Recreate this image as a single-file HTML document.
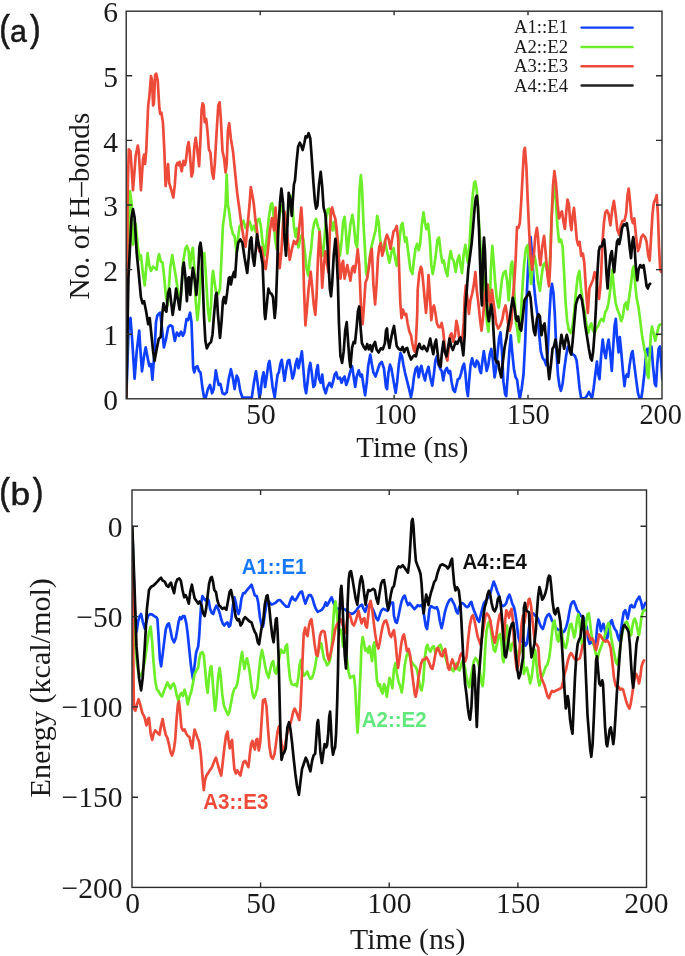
<!DOCTYPE html>
<html><head><meta charset="utf-8">
<style>
html,body{margin:0;padding:0;background:#fff;}
body{width:685px;height:956px;overflow:hidden;position:relative;font-family:"Liberation Serif",serif;}
svg{position:absolute;left:0;top:0;filter:blur(0.55px);}
text{font-family:"Liberation Serif",serif;fill:#1a1a1a;}
.s{font-family:"Liberation Sans",sans-serif;}
.b{font-family:"Liberation Sans",sans-serif;font-weight:bold;font-size:21.5px;}
</style></head><body>
<svg width="685" height="956" viewBox="0 0 685 956">
<defs>
<clipPath id="cp1"><rect x="126" y="11" width="536" height="388"/></clipPath>
<clipPath id="cp2"><rect x="132" y="490" width="514.5" height="397.5"/></clipPath>
</defs>
<rect width="685" height="956" fill="#fff"/>
<!-- chart 1 -->
<g>
<path d="M126.3,397.5 L128.8,322.2 L130.5,318.0 L132.1,338.9 L134.6,378.6 L136.7,351.4 L139.2,330.5 L140.5,351.4 L142.0,371.3 L144.1,355.6 L145.7,347.3 L147.2,355.6 L149.3,366.1 L151.0,364.0 L152.4,379.7 L154.5,351.4 L156.0,322.2 L157.2,315.9 L158.7,313.8 L160.2,312.7 L161.8,326.3 L163.9,347.3 L166.0,338.9 L168.1,327.4 L170.2,325.3 L172.3,326.3 L174.8,341.0 L176.9,332.6 L179.0,335.8 L181.1,331.6 L182.8,335.8 L184.4,332.6 L186.5,319.0 L188.0,320.1 L190.1,312.7 L191.5,322.2 L193.2,368.2 L194.3,372.4 L195.7,367.1 L197.4,366.1 L199.1,371.3 L200.5,372.4 L202.6,389.1 L204.1,397.5 L205.8,397.5 L207.9,389.1 L210.0,384.9 L212.1,393.3 L213.7,389.1 L215.8,370.3 L217.3,378.6 L218.7,384.9 L220.4,383.9 L222.5,393.3 L224.6,394.3 L226.7,392.2 L228.8,378.6 L230.9,369.2 L233.0,378.6 L234.6,389.1 L236.7,375.5 L238.2,378.6 L240.3,391.2 L242.4,397.5 L251.8,397.5 L253.9,382.8 L256.0,371.3 L257.9,384.9 L259.4,397.5 L260.5,393.3 L262.1,378.6 L263.6,372.4 L265.1,387.0 L266.7,376.5 L268.4,364.0 L269.5,360.9 L270.9,372.4 L272.6,387.0 L274.7,397.5 L276.2,384.9 L277.6,374.5 L278.9,372.4 L280.3,364.0 L281.8,359.8 L283.1,370.3 L284.5,380.7 L286.0,370.3 L287.7,360.9 L289.3,359.8 L290.8,368.2 L292.5,378.6 L293.9,374.5 L295.6,364.0 L297.1,358.8 L298.5,368.2 L300.2,359.8 L301.9,351.4 L303.3,368.2 L304.8,387.0 L306.1,393.3 L307.5,382.8 L309.0,368.2 L310.3,362.9 L311.7,372.4 L313.4,387.0 L314.9,384.9 L316.5,370.3 L317.8,365.0 L319.0,378.6 L320.7,382.8 L322.2,374.5 L323.6,387.0 L325.7,393.3 L327.4,387.0 L329.5,382.8 L331.6,387.0 L333.3,380.7 L334.7,374.5 L336.2,372.4 L337.9,378.6 L340.0,377.6 L341.6,382.8 L343.1,378.6 L344.6,376.5 L346.2,384.9 L347.9,380.7 L350.0,372.4 L352.1,366.1 L353.6,376.5 L355.2,387.0 L356.7,376.5 L358.8,370.3 L360.5,376.5 L361.9,374.5 L363.4,384.9 L365.1,395.4 L366.7,382.8 L368.2,366.1 L370.3,354.6 L371.8,364.0 L373.4,372.4 L375.5,376.5 L377.6,370.3 L379.7,364.0 L381.8,361.9 L383.9,368.2 L386.0,387.0 L387.0,389.1 L388.4,373.1 L390.0,364.7 L391.5,368.9 L393.6,381.4 L395.7,392.9 L397.2,381.4 L398.8,364.7 L400.5,353.2 L402.0,356.3 L403.4,364.7 L405.1,373.1 L407.2,381.4 L409.3,389.8 L411.0,397.1 L412.4,389.8 L413.9,377.3 L415.6,368.9 L417.2,366.8 L418.7,377.3 L420.2,368.9 L421.4,365.8 L422.9,373.1 L425.0,380.4 L426.4,373.1 L428.5,366.8 L430.2,377.3 L432.3,385.6 L434.0,373.1 L435.4,360.5 L436.9,356.3 L438.6,364.7 L440.3,368.9 L441.7,371.0 L443.2,380.4 L444.9,371.0 L446.9,367.8 L448.6,373.1 L450.1,371.0 L451.5,381.4 L453.2,389.8 L454.9,391.9 L456.4,385.6 L457.8,379.4 L459.5,378.3 L461.2,373.1 L462.6,366.8 L464.1,363.7 L465.4,373.1 L466.8,389.8 L467.9,396.1 L469.1,381.4 L470.6,364.7 L472.1,358.4 L473.7,364.7 L475.2,366.8 L476.7,360.5 L478.3,362.6 L480.0,371.0 L481.0,373.1 L482.5,360.5 L483.8,351.1 L485.2,360.5 L486.7,371.0 L488.4,364.7 L489.8,354.2 L491.3,349.0 L493.0,360.5 L494.6,377.3 L496.1,368.9 L497.6,352.2 L499.2,337.5 L500.5,332.3 L502.0,352.2 L503.4,381.4 L505.1,394.0 L506.2,396.1 L507.6,377.3 L509.3,352.2 L510.8,335.4 L512.2,352.2 L513.9,368.9 L515.6,377.3 L517.0,379.4 L518.2,388.5 L519.8,399.0 L521.7,388.5 L523.5,374.5 L525.2,341.8 L526.8,295.1 L528.7,253.0 L530.6,237.1 L532.2,255.4 L533.8,283.4 L535.7,302.1 L537.6,316.1 L539.2,334.8 L540.8,351.1 L542.7,358.1 L544.6,360.5 L546.2,365.1 L547.8,351.1 L549.2,318.4 L550.9,290.4 L552.0,283.9 L553.4,292.7 L554.8,313.8 L556.2,346.5 L557.9,374.5 L559.5,386.2 L560.9,390.8 L562.6,383.8 L564.2,369.8 L566.1,355.8 L567.9,346.5 L569.6,348.8 L571.2,352.3 L573.1,354.6 L574.9,355.8 L576.6,360.5 L578.2,374.5 L579.6,388.5 L581.2,398.3 L585.2,398.3 L587.1,395.5 L588.9,392.0 L590.6,395.5 L592.0,398.3 L593.6,388.5 L595.3,374.5 L596.9,361.6 L598.3,374.5 L599.5,379.2 L601.1,355.8 L602.7,339.5 L604.1,351.1 L605.8,358.1 L607.2,346.5 L608.6,339.5 L610.0,351.1 L611.8,371.0 L613.2,346.5 L614.6,325.4 L615.8,318.9 L617.0,337.1 L618.6,352.3 L619.8,337.1 L621.2,351.1 L622.8,369.8 L624.5,386.2 L625.6,376.8 L626.8,374.5 L628.2,376.8 L629.6,365.1 L631.5,353.5 L632.6,351.1 L634.3,365.1 L636.1,379.2 L638.0,393.2 L639.6,398.3 L641.3,398.3 L642.7,388.5 L644.3,374.5 L645.9,355.8 L647.3,348.8 L648.7,355.8 L650.1,346.5 L651.5,346.5 L652.9,365.1 L654.8,383.8 L656.0,386.2 L657.2,365.1 L658.6,348.8 L660.0,346.5 L661.4,365.1 L662.3,379.2" fill="none" stroke="#1040ff" stroke-width="2.7" stroke-linejoin="round" stroke-linecap="round" clip-path="url(#cp1)"/>
<path d="M126.3,397.5 L127.9,267.8 L129.2,205.0 L130.0,191.2 L131.7,205.0 L133.0,244.7 L135.7,223.8 L137.8,246.8 L139.9,259.4 L140.9,255.2 L143.0,274.0 L144.7,285.5 L146.2,267.8 L147.6,253.1 L149.3,265.7 L151.0,270.9 L153.1,266.7 L154.5,267.8 L156.6,269.9 L158.1,257.3 L159.1,254.2 L160.8,261.5 L162.5,262.5 L163.9,274.0 L166.0,297.1 L167.7,305.4 L170.2,267.8 L172.3,255.2 L174.0,265.7 L176.1,278.2 L178.2,292.9 L180.3,301.2 L181.7,284.5 L183.2,261.5 L185.3,248.9 L186.9,245.8 L188.6,251.0 L190.1,267.8 L191.1,255.2 L192.8,247.9 L194.3,267.8 L195.7,301.2 L197.4,320.1 L199.1,303.3 L200.5,278.2 L202.6,257.3 L204.3,253.1 L205.8,274.0 L207.9,309.6 L209.5,321.1 L211.0,305.4 L212.1,278.2 L213.1,270.9 L214.6,282.4 L216.2,292.9 L218.3,293.9 L220.0,288.7 L221.5,257.3 L222.9,225.9 L224.6,213.4 L225.6,205.0 L226.7,174.5 L227.9,205.0 L228.8,209.2 L230.9,225.9 L233.0,234.3 L234.6,236.4 L236.7,253.1 L238.2,236.4 L239.7,225.9 L241.3,224.9 L243.4,220.7 L245.5,228.0 L247.6,223.8 L249.7,221.7 L251.8,230.1 L253.9,225.9 L256.0,232.2 L257.3,220.1 L259.4,219.0 L260.9,226.3 L262.6,243.1 L264.6,255.6 L266.7,238.9 L268.8,218.0 L270.9,204.4 L272.2,203.3 L273.4,213.8 L275.1,238.9 L276.8,249.4 L278.2,230.5 L279.7,213.8 L281.4,205.4 L283.5,213.8 L285.6,230.5 L287.2,222.2 L288.7,205.4 L290.8,196.0 L292.3,203.3 L293.9,226.3 L295.6,236.8 L297.1,228.4 L298.5,247.3 L300.2,238.9 L301.9,234.7 L303.3,238.9 L304.8,251.4 L306.5,268.2 L308.2,275.5 L309.6,259.8 L311.1,249.4 L312.8,230.5 L314.4,222.2 L316.1,219.0 L317.8,226.3 L319.5,230.5 L321.1,247.3 L322.8,255.6 L324.3,241.0 L325.7,222.2 L327.4,209.6 L329.1,208.6 L330.5,218.0 L332.6,230.5 L334.1,222.2 L335.8,230.5 L337.9,241.0 L340.0,255.6 L341.6,241.0 L343.1,222.2 L344.6,216.9 L345.8,230.5 L347.3,253.5 L348.7,241.0 L350.4,224.2 L352.5,214.8 L354.0,226.3 L355.6,243.1 L357.1,247.3 L358.4,222.2 L359.6,188.7 L360.9,175.1 L362.1,188.7 L363.4,222.2 L365.1,251.4 L366.1,272.4 L367.2,276.5 L369.2,261.9 L371.3,247.3 L373.4,238.9 L375.5,230.5 L377.2,215.9 L378.7,222.2 L380.1,238.9 L381.8,251.4 L383.5,247.3 L384.9,241.0 L387.0,251.4 L389.4,262.6 L391.5,252.2 L393.6,248.0 L395.1,258.4 L396.7,265.8 L398.4,252.2 L399.9,235.4 L401.3,225.0 L402.6,222.9 L404.1,235.4 L405.1,241.7 L406.4,237.5 L408.2,252.2 L410.3,268.9 L412.4,274.1 L413.9,260.5 L415.6,248.0 L417.2,243.8 L418.7,250.1 L420.2,243.8 L421.8,225.0 L423.5,212.4 L425.0,222.9 L426.4,229.1 L428.1,223.9 L429.8,239.6 L431.3,264.7 L432.7,274.1 L434.4,264.7 L436.1,252.2 L437.5,239.6 L439.0,237.5 L440.7,252.2 L442.3,262.6 L443.8,260.5 L445.3,268.9 L447.4,276.2 L449.0,260.5 L450.7,251.1 L452.2,258.4 L453.6,260.5 L455.7,272.0 L457.4,260.5 L459.1,255.3 L460.5,264.7 L462.0,273.1 L463.7,254.2 L465.4,244.8 L466.8,256.3 L467.9,262.6 L469.5,243.8 L471.0,218.7 L472.5,197.8 L474.1,183.1 L475.2,181.4 L476.7,189.4 L477.9,206.1 L479.4,229.1 L480.8,252.2 L482.5,268.9 L484.0,281.4 L485.6,306.5 L487.1,323.3 L488.4,331.7 L489.6,312.8 L490.9,268.9 L492.3,245.9 L493.6,260.5 L495.1,281.4 L496.7,298.2 L498.8,307.6 L500.3,294.0 L502.0,279.4 L503.4,273.1 L505.5,271.0 L507.2,281.4 L508.7,300.3 L509.7,285.6 L511.0,264.7 L512.2,261.6 L513.5,277.3 L514.9,302.4 L516.0,323.3 L517.0,327.5 L518.9,342.2 L520.5,323.5 L522.1,293.2 L524.0,265.1 L525.9,248.8 L527.5,245.3 L529.2,260.5 L531.0,283.8 L532.9,265.1 L534.5,255.8 L536.2,265.1 L538.0,281.5 L539.9,290.8 L541.5,276.8 L543.2,265.1 L545.0,262.8 L546.9,269.8 L548.5,279.2 L550.2,255.8 L551.6,218.4 L553.2,192.7 L554.4,184.6 L555.8,199.7 L557.4,225.4 L559.1,241.8 L560.9,239.5 L562.6,246.5 L564.2,274.5 L565.6,302.5 L567.2,321.2 L568.9,330.5 L570.7,332.9 L572.6,325.9 L574.2,311.9 L575.9,293.2 L577.7,276.8 L579.4,271.0 L581.0,288.5 L582.9,302.5 L584.7,311.9 L586.6,325.9 L588.2,332.9 L589.9,325.9 L591.3,323.5 L592.9,330.5 L594.6,332.9 L596.4,328.2 L598.3,325.9 L599.9,321.2 L601.6,318.9 L603.4,321.2 L605.3,311.9 L606.9,309.5 L608.6,302.5 L610.4,288.5 L612.3,269.8 L613.9,288.5 L615.6,302.5 L617.4,309.5 L619.3,314.2 L621.2,321.2 L622.8,316.5 L624.5,304.9 L626.1,302.5 L627.5,309.5 L629.1,297.8 L631.0,283.8 L632.6,269.8 L633.8,266.3 L635.2,283.8 L636.6,297.8 L638.5,307.2 L640.3,321.2 L642.0,335.2 L643.6,344.6 L644.3,348.8 L645.9,355.8 L647.3,374.5 L648.5,378.0 L649.7,355.8 L650.8,334.8 L652.0,326.6 L653.4,332.4 L655.3,340.6 L657.2,332.4 L659.0,325.4 L660.7,324.3" fill="none" stroke="#6cee28" stroke-width="2.7" stroke-linejoin="round" stroke-linecap="round" clip-path="url(#cp1)"/>
<path d="M126.3,397.5 L127.3,267.8 L127.5,205.0 L127.9,182.8 L128.8,149.4 L130.5,151.4 L133.0,190.1 L135.7,155.6 L137.8,145.6 L138.8,151.4 L140.9,190.1 L143.0,159.8 L144.1,154.6 L145.1,164.0 L146.2,151.4 L148.2,105.4 L149.3,97.1 L151.0,76.1 L152.0,80.3 L153.1,105.4 L153.9,103.3 L155.1,75.1 L156.2,73.6 L157.7,80.3 L159.3,107.5 L160.2,113.8 L161.4,112.7 L162.9,122.2 L164.4,151.4 L165.6,186.0 L167.1,172.4 L168.1,164.0 L169.2,182.8 L171.3,190.1 L173.3,197.5 L174.8,184.9 L176.1,166.1 L177.5,162.9 L178.6,165.0 L179.6,161.9 L181.7,171.3 L183.4,160.9 L184.9,165.0 L185.9,160.9 L187.4,147.3 L188.6,142.0 L189.7,151.4 L191.5,176.5 L192.8,172.4 L194.3,147.3 L195.7,137.8 L197.0,147.3 L199.1,166.1 L200.5,138.9 L201.6,109.6 L202.6,103.3 L203.7,105.4 L204.7,122.2 L206.2,119.0 L207.4,130.5 L208.9,149.4 L210.4,152.5 L212.1,172.4 L213.5,178.6 L214.8,164.0 L216.7,130.5 L218.3,105.4 L219.6,102.3 L220.8,118.0 L222.5,151.4 L224.0,157.7 L225.6,172.4 L226.7,164.0 L227.9,130.5 L229.2,123.2 L230.9,138.9 L233.0,151.4 L235.1,172.4 L237.2,193.3 L238.8,204.8 L239.7,211.3 L241.3,223.8 L243.4,236.4 L245.5,246.8 L247.2,230.1 L248.7,213.4 L249.5,205.0 L250.8,187.0 L252.8,197.5 L253.9,204.8 L255.6,221.7 L257.0,230.1 L258.4,247.3 L259.4,251.4 L261.5,247.3 L263.6,259.8 L265.7,269.2 L267.8,251.4 L269.9,230.5 L272.0,218.0 L274.1,230.5 L275.5,207.5 L276.8,226.3 L278.2,251.4 L279.7,268.2 L281.4,251.4 L283.1,222.2 L284.5,211.7 L286.0,222.2 L287.7,238.9 L289.7,259.8 L291.8,249.4 L293.9,241.0 L296.0,244.1 L298.1,238.9 L299.8,222.2 L301.3,207.5 L302.3,222.2 L304.0,288.7 L305.4,325.3 L306.9,309.6 L308.6,288.7 L310.7,271.9 L312.3,288.7 L313.8,305.4 L315.3,314.8 L316.5,297.1 L318.0,257.3 L319.5,232.2 L320.7,251.0 L322.2,287.6 L323.6,267.8 L325.3,251.4 L327.0,264.0 L328.5,272.4 L329.9,230.5 L331.2,209.6 L332.2,207.5 L333.7,213.8 L335.4,219.0 L336.8,230.5 L338.3,251.4 L340.4,278.6 L342.1,264.0 L343.1,260.9 L344.6,278.6 L346.2,270.3 L347.3,265.0 L348.7,272.4 L350.4,280.7 L352.1,268.2 L353.6,266.1 L354.6,272.4 L356.3,261.9 L357.7,249.4 L359.2,264.0 L360.9,305.4 L362.6,324.2 L364.0,305.4 L365.5,282.4 L367.2,278.2 L368.8,267.8 L370.3,255.2 L371.8,248.9 L373.4,284.5 L375.1,304.4 L376.6,284.5 L378.0,257.3 L379.3,246.8 L380.8,243.1 L382.2,255.6 L383.9,249.4 L385.6,238.9 L387.0,234.7 L388.8,239.6 L390.5,249.0 L392.1,239.6 L393.6,231.2 L395.1,230.2 L396.7,226.0 L398.2,239.6 L399.2,271.0 L400.3,302.4 L401.5,318.1 L403.0,309.7 L404.7,314.9 L406.2,313.9 L407.6,323.3 L409.3,331.2 L411.0,335.4 L412.4,343.8 L413.9,350.1 L415.1,352.2 L416.0,339.6 L417.2,314.5 L417.7,289.8 L419.3,273.1 L420.8,266.8 L421.8,268.9 L423.5,285.6 L425.0,302.4 L426.0,312.8 L427.3,298.2 L428.5,275.2 L429.8,294.0 L431.3,320.1 L432.7,308.6 L434.0,305.5 L435.4,312.8 L436.9,323.3 L438.6,327.1 L440.3,327.1 L441.7,322.9 L443.2,331.2 L444.9,348.0 L446.5,358.4 L447.4,360.5 L448.6,348.0 L450.1,335.4 L451.5,333.3 L453.2,341.7 L454.9,335.4 L456.4,320.8 L457.8,327.1 L459.5,339.6 L461.2,340.6 L462.6,335.4 L463.7,322.9 L464.7,298.2 L465.8,285.6 L467.4,298.2 L468.9,313.9 L470.4,300.3 L472.1,294.0 L473.7,285.6 L475.4,272.0 L476.7,289.8 L478.3,302.4 L480.0,319.1 L481.5,330.6 L482.9,319.1 L484.6,298.2 L486.3,285.6 L487.7,284.6 L489.2,300.3 L490.5,306.5 L491.9,289.8 L493.0,298.2 L494.6,310.7 L496.1,323.3 L498.2,328.5 L500.3,325.4 L502.4,319.1 L503.8,310.7 L505.5,305.5 L506.8,312.8 L508.0,323.3 L509.7,330.6 L511.4,323.3 L512.8,298.2 L514.3,281.4 L515.6,260.5 L517.0,227.1 L518.4,227.8 L519.8,223.1 L521.2,202.1 L522.8,171.7 L524.0,150.7 L524.9,147.9 L526.4,167.0 L527.8,202.1 L529.2,232.4 L530.6,255.8 L532.2,269.8 L533.8,255.8 L535.2,237.1 L536.9,227.8 L538.0,237.1 L539.2,255.8 L540.4,265.1 L542.2,246.5 L544.1,235.9 L545.5,251.1 L547.4,274.5 L549.0,286.2 L550.2,265.1 L551.6,218.4 L553.0,185.7 L554.4,171.2 L556.0,183.4 L557.6,204.4 L559.1,218.4 L560.5,213.8 L561.9,211.4 L563.3,220.8 L564.9,228.9 L566.1,213.8 L567.5,199.7 L568.9,204.4 L570.3,223.1 L571.4,230.1 L572.6,216.1 L574.0,207.9 L575.4,223.1 L576.8,239.5 L578.2,245.3 L579.6,241.8 L581.2,255.8 L582.9,253.5 L584.3,262.8 L585.9,288.5 L587.8,313.0 L589.4,288.5 L591.3,283.8 L592.9,280.3 L594.6,272.2 L596.0,274.5 L597.4,288.5 L599.0,299.0 L600.2,288.5 L601.1,274.5 L602.5,241.8 L603.9,223.1 L605.3,212.6 L606.9,210.3 L608.6,213.8 L610.4,225.4 L612.3,209.1 L613.9,200.9 L615.6,213.8 L617.4,230.1 L619.3,234.8 L620.9,225.4 L622.6,220.8 L624.5,220.8 L626.1,213.8 L627.5,195.1 L628.7,188.5 L630.1,202.1 L631.5,218.4 L632.9,223.1 L634.3,218.4 L636.1,237.1 L638.0,251.1 L639.6,246.5 L641.3,237.1 L643.1,234.8 L645.0,237.1 L646.6,241.8 L648.3,255.8 L649.7,260.5 L651.1,237.1 L652.5,213.8 L653.9,202.1 L655.3,199.7 L656.7,195.1 L657.9,213.8 L659.0,246.5 L660.2,269.8 L661.4,272.2" fill="none" stroke="#ee4a3a" stroke-width="2.7" stroke-linejoin="round" stroke-linecap="round" clip-path="url(#cp1)"/>
<path d="M126.3,397.5 L128.4,278.2 L131.5,217.6 L133.0,209.2 L134.6,217.6 L136.7,253.1 L138.8,274.0 L140.9,297.1 L142.6,303.3 L144.1,301.2 L146.2,311.7 L148.2,324.2 L149.7,318.0 L151.4,334.7 L153.1,351.4 L154.5,360.9 L156.6,349.4 L158.7,338.9 L160.8,336.8 L162.3,313.8 L163.5,303.3 L165.0,309.6 L166.4,311.7 L168.1,292.9 L169.6,288.7 L171.3,303.3 L172.7,314.8 L174.4,303.3 L176.1,288.7 L177.5,297.1 L179.6,309.6 L181.1,292.9 L182.8,267.8 L183.8,262.5 L185.3,276.1 L186.9,301.2 L188.2,278.2 L189.0,277.2 L190.3,295.0 L191.5,280.3 L192.8,267.8 L194.3,276.1 L196.4,295.0 L197.8,278.2 L199.5,246.8 L200.5,242.7 L201.6,251.0 L202.8,284.5 L204.1,318.0 L205.4,341.0 L206.8,348.3 L208.9,344.1 L211.0,342.0 L212.5,334.7 L214.1,313.8 L215.8,295.0 L216.7,292.9 L217.9,313.8 L220.0,337.8 L221.5,322.2 L222.9,301.2 L224.0,297.1 L225.6,303.3 L227.1,292.9 L228.8,278.2 L229.8,277.2 L230.9,284.5 L232.6,276.1 L234.0,271.9 L235.1,277.2 L236.7,253.1 L238.2,242.7 L240.3,239.5 L242.4,242.7 L244.5,257.3 L247.2,273.0 L248.7,257.3 L250.1,240.6 L251.4,237.4 L252.8,257.3 L254.3,265.7 L256.0,246.8 L257.0,234.3 L258.4,243.1 L260.5,251.4 L262.6,264.0 L263.6,288.7 L264.6,313.8 L265.3,319.0 L266.7,305.4 L268.4,288.7 L269.9,292.9 L271.5,293.9 L273.0,297.1 L274.7,318.0 L275.9,305.4 L277.2,267.8 L278.2,230.5 L280.3,199.1 L281.4,188.7 L283.1,203.3 L284.5,238.9 L286.0,255.6 L287.2,230.5 L288.7,192.9 L290.2,199.1 L291.8,215.9 L292.9,199.1 L293.9,184.5 L295.0,180.3 L296.4,163.6 L298.1,146.8 L299.8,142.7 L301.3,145.8 L302.7,150.0 L304.4,142.7 L305.6,136.4 L306.9,137.4 L308.6,133.2 L310.3,138.5 L311.7,157.3 L313.4,182.4 L314.9,201.2 L316.1,208.6 L317.4,205.4 L319.0,184.5 L320.7,171.9 L322.2,186.6 L323.6,207.5 L325.3,213.8 L327.0,234.7 L328.5,264.0 L329.9,289.1 L331.0,296.4 L332.2,282.8 L333.7,255.6 L335.4,238.9 L336.4,251.4 L337.9,282.8 L338.9,322.2 L340.4,355.6 L342.1,362.9 L343.7,351.4 L345.2,330.5 L346.7,322.2 L347.9,338.9 L349.4,359.8 L350.4,367.1 L352.1,347.3 L353.6,342.0 L355.0,343.1 L356.7,326.3 L357.9,311.7 L359.2,306.5 L360.5,326.3 L361.9,343.1 L364.0,347.3 L365.5,349.4 L367.2,344.1 L368.8,349.4 L370.3,345.2 L371.8,351.4 L373.4,345.2 L375.1,342.0 L376.6,349.4 L378.7,352.5 L380.8,348.3 L382.8,349.4 L384.9,343.1 L386.0,330.5 L387.0,328.4 L387.9,339.6 L389.4,348.0 L390.9,339.6 L392.6,331.2 L394.0,326.0 L395.3,335.4 L396.7,345.9 L398.8,349.0 L400.9,350.1 L402.6,346.9 L404.1,352.2 L405.5,349.0 L407.2,348.0 L408.9,354.2 L411.0,359.5 L413.1,356.3 L414.5,355.3 L416.0,356.3 L417.7,348.0 L419.3,343.8 L420.8,348.0 L422.5,349.0 L423.9,345.9 L425.6,349.0 L427.1,351.1 L428.5,345.9 L430.2,338.6 L431.9,348.0 L433.3,354.2 L434.8,343.8 L436.1,339.6 L437.5,352.2 L439.0,364.7 L440.7,366.8 L441.9,352.2 L443.4,341.7 L444.9,352.2 L446.5,356.3 L448.0,348.0 L449.5,338.6 L451.1,345.9 L452.8,350.1 L454.3,345.9 L455.7,341.7 L457.4,343.8 L459.1,339.6 L460.5,337.5 L462.0,345.9 L463.3,355.3 L464.1,343.8 L464.7,335.4 L465.4,308.6 L466.8,289.8 L468.3,268.9 L470.0,256.3 L471.6,243.8 L473.1,227.1 L474.6,208.2 L475.8,197.8 L476.9,195.7 L477.9,206.1 L479.0,229.1 L480.0,260.5 L481.0,291.9 L481.9,305.5 L482.5,281.4 L483.1,252.2 L484.0,237.5 L485.0,252.2 L485.9,281.4 L486.7,302.4 L487.7,314.9 L488.8,321.2 L490.0,312.8 L491.3,304.5 L492.6,314.9 L494.0,339.6 L495.1,358.4 L496.7,362.6 L498.2,361.6 L499.7,371.0 L501.3,377.3 L503.0,360.5 L504.5,348.0 L506.6,337.5 L508.0,327.1 L509.7,318.7 L511.4,306.1 L512.8,297.8 L514.3,306.1 L516.0,318.7 L517.0,320.8 L518.2,316.5 L519.8,328.2 L521.2,330.5 L522.8,316.5 L524.5,300.2 L525.9,297.8 L527.5,295.5 L529.2,292.0 L530.6,297.8 L532.2,316.5 L533.8,330.5 L535.2,335.2 L536.9,318.9 L538.5,314.2 L539.9,316.5 L541.5,335.2 L543.2,325.9 L544.6,323.5 L546.2,341.8 L547.8,365.1 L549.2,379.2 L550.9,365.1 L552.5,348.8 L553.9,346.5 L555.5,339.5 L557.2,351.1 L558.6,362.8 L560.0,346.5 L561.4,334.8 L562.8,341.8 L564.2,348.8 L565.6,339.5 L566.8,334.8 L568.4,341.8 L569.8,351.1 L571.2,354.6 L572.6,341.8 L574.2,323.1 L575.9,304.4 L577.7,298.6 L580.1,295.1 L581.9,299.7 L583.6,311.4 L585.2,325.4 L587.1,337.1 L588.9,348.8 L590.6,358.1 L591.8,360.5 L593.2,351.1 L594.6,332.4 L596.0,306.8 L596.9,283.4 L597.6,269.8 L598.8,251.1 L599.9,246.5 L601.6,246.5 L603.0,241.8 L604.1,239.5 L605.3,251.1 L606.5,274.5 L607.6,288.5 L609.0,269.8 L610.4,255.8 L611.8,251.1 L613.2,265.1 L614.2,272.2 L615.6,255.8 L617.0,241.8 L618.1,239.5 L619.3,244.1 L620.7,237.1 L622.1,227.8 L624.0,224.3 L625.6,225.4 L626.8,223.1 L628.2,232.4 L629.6,246.5 L631.0,258.1 L632.4,241.8 L633.3,237.1 L634.5,246.5 L635.7,265.1 L637.3,280.3 L638.5,269.8 L640.3,265.1 L642.0,267.5 L643.6,265.1 L645.0,274.5 L646.6,286.2 L647.8,288.5 L649.0,285.0 L650.1,283.8" fill="none" stroke="#0a0a0a" stroke-width="2.7" stroke-linejoin="round" stroke-linecap="round" clip-path="url(#cp1)"/>
</g>
<g stroke="#2c2c2c" stroke-width="1.4" fill="none">
<rect x="126.2" y="11.2" width="535.8" height="387.6"/>
<path d="M126.2,75.8h6M126.2,140.4h6M126.2,205h6M126.2,269.6h6M126.2,334.2h6"/>
<path d="M662,75.8h-6M662,140.4h-6M662,205h-6M662,269.6h-6M662,334.2h-6"/>
<path d="M260.2,398.8v-4M394.1,398.8v-4M528,398.8v-4M260.2,11.2v4M394.1,11.2v4M528,11.2v4"/>
</g>
<g font-size="29.500" text-anchor="end">
<text x="118" y="22.4">6</text><text x="118" y="87">5</text><text x="118" y="151.600">4</text><text x="118" y="216.200">3</text><text x="118" y="280.800">2</text><text x="118" y="345.400">1</text><text x="118" y="410">0</text>
</g>
<g font-size="29.500" text-anchor="middle">
<text x="261" y="424">50</text><text x="395.200" y="424" textLength="43" lengthAdjust="spacingAndGlyphs">100</text><text x="528.300" y="424" textLength="43" lengthAdjust="spacingAndGlyphs">150</text><text x="660.700" y="424" textLength="42.5" lengthAdjust="spacingAndGlyphs">200</text>
</g>
<text x="412.400" y="457.300" font-size="28.900" text-anchor="middle">Time (ns)</text>
<text font-size="29.100" text-anchor="middle" transform="translate(89.300,206.100) rotate(-90)">No. of H–bonds</text>
<g class="s" font-size="32" fill="#111" stroke="#111" stroke-width="0.5">
<text class="s" fill="#111" x="-0.8" y="42" transform="translate(0,49) scale(1,1.13) translate(0,-49)">(</text>
<text class="s" fill="#111" x="0" y="42" transform="translate(10.0,0) scale(0.95,1)">a</text>
<text class="s" fill="#111" x="30" y="42" transform="translate(0,49) scale(1,1.13) translate(0,-49)">)</text>
<text class="s" fill="#111" x="-0.8" y="505" transform="translate(0,512) scale(1,1.13) translate(0,-512)">(</text>
<text class="s" fill="#111" x="0" y="505" transform="translate(10.6,0) scale(1.1,1)">b</text>
<text class="s" fill="#111" x="32.8" y="505" transform="translate(0,512) scale(1,1.13) translate(0,-512)">)</text>
</g>
<!-- legend -->
<g font-size="18.700" text-anchor="end">
<text x="568" y="33.300">A1::E1</text><text x="568" y="52.700">A2::E2</text><text x="568" y="72.200">A3::E3</text><text x="568" y="91.600">A4::E4</text>
</g>
<g stroke-width="2.4" fill="none" stroke-linecap="round">
<path d="M581.600,27.600h51" stroke="#1040ff"/><path d="M581.600,47h51" stroke="#6cee28"/><path d="M581.600,66.300h51" stroke="#ee4a3a"/><path d="M581.600,85.500h51" stroke="#222"/>
</g>
<!-- chart 2 -->
<g>
<path d="M132.3,526.8 L133.9,583.7 L135.6,633.9 L136.9,629.7 L138.1,621.3 L139.6,616.1 L141.1,614.0 L142.7,621.3 L144.8,628.7 L146.5,621.3 L148.0,616.1 L150.1,614.0 L152.2,614.6 L154.2,616.1 L156.3,617.2 L157.4,619.2 L158.4,633.9 L159.9,659.0 L161.1,666.3 L162.6,654.8 L164.1,642.3 L165.7,629.7 L167.4,624.5 L168.9,623.4 L170.4,629.7 L172.0,638.1 L174.1,642.3 L175.8,638.1 L177.3,629.7 L178.7,621.3 L180.0,617.2 L181.4,619.2 L182.9,616.1 L184.6,616.1 L186.3,623.4 L187.7,633.9 L189.4,650.6 L190.9,665.3 L192.1,673.6 L192.9,678.9 L194.6,665.3 L196.1,652.7 L198.2,646.4 L199.2,636.0 L200.3,617.2 L201.3,602.5 L202.4,596.2 L203.8,598.3 L205.5,600.4 L207.2,598.3 L208.6,600.4 L210.1,608.8 L211.8,613.0 L213.2,614.0 L214.9,608.8 L216.4,605.6 L218.1,608.8 L219.7,613.0 L221.2,619.2 L222.7,623.4 L224.3,625.5 L226.0,623.4 L227.5,622.4 L228.9,626.6 L230.2,625.5 L231.6,617.2 L233.1,604.6 L234.4,597.3 L235.8,602.5 L237.3,610.9 L238.6,614.0 L240.0,608.8 L241.5,598.3 L243.2,593.1 L244.8,593.1 L246.3,591.0 L248.0,588.9 L249.8,586.8 L251.5,584.7 L253.2,590.0 L254.7,595.2 L256.8,596.2 L258.2,602.5 L259.9,617.2 L261.6,625.5 L263.0,626.6 L264.4,617.2 L266.0,606.7 L267.7,600.4 L269.6,602.5 L271.7,604.6 L273.8,603.6 L275.9,602.5 L278.0,600.4 L280.1,600.0 L282.2,602.5 L284.2,604.6 L286.3,606.7 L288.4,606.7 L290.5,600.4 L292.2,596.7 L293.7,599.4 L295.3,600.4 L296.8,598.3 L298.9,594.1 L300.4,592.1 L302.0,591.6 L303.7,598.3 L305.4,603.6 L307.3,598.3 L308.9,595.2 L310.8,595.2 L312.5,598.3 L314.2,604.6 L315.8,608.8 L317.7,611.9 L319.8,610.9 L321.9,609.8 L324.0,606.7 L325.7,602.5 L327.1,605.6 L328.8,602.5 L330.3,599.4 L331.7,597.3 L333.4,602.5 L335.1,606.7 L337.2,608.8 L339.3,608.8 L341.4,607.7 L343.4,608.8 L345.5,609.8 L347.6,611.9 L349.7,613.0 L351.8,614.0 L353.9,613.0 L356.0,610.9 L358.1,607.7 L360.2,605.6 L361.9,604.6 L363.5,608.8 L365.2,611.9 L366.9,606.7 L369.0,604.6 L371.1,606.7 L372.7,608.8 L374.4,613.0 L376.3,618.2 L378.0,620.3 L379.4,616.1 L381.1,610.9 L383.2,608.8 L385.3,609.8 L387.4,610.9 L389.1,606.7 L390.9,602.5 L393.0,602.5 L393.9,615.5 L395.4,621.8 L396.9,622.8 L398.6,615.5 L400.2,607.2 L401.7,600.9 L403.4,596.7 L404.8,595.6 L406.3,600.9 L408.0,605.1 L409.6,603.0 L411.1,605.1 L412.8,607.2 L414.5,609.2 L416.3,607.2 L417.8,605.1 L419.5,606.1 L421.1,605.1 L422.6,607.2 L424.1,615.5 L425.7,626.0 L427.0,629.1 L428.3,619.7 L429.5,609.2 L431.0,606.1 L433.1,607.2 L435.2,608.2 L436.8,607.2 L438.3,611.3 L440.0,621.8 L441.6,628.1 L443.1,621.8 L444.6,613.4 L446.3,607.2 L447.9,603.0 L449.6,599.8 L451.3,598.8 L452.9,601.9 L454.6,605.1 L456.3,611.3 L457.8,613.4 L459.2,607.2 L460.7,604.0 L462.4,603.0 L463.8,604.0 L465.5,606.1 L467.2,607.2 L468.6,606.1 L470.1,603.0 L471.4,601.9 L472.8,607.2 L474.3,611.3 L476.0,615.5 L477.6,619.7 L479.1,621.8 L480.6,615.5 L482.2,609.2 L483.9,603.0 L485.6,600.9 L487.3,598.8 L488.9,596.7 L490.6,592.5 L492.3,586.2 L493.7,581.6 L495.2,585.2 L496.9,590.4 L498.6,594.6 L500.0,600.9 L501.5,605.1 L503.2,606.1 L504.8,605.1 L506.3,603.0 L507.8,597.7 L509.4,594.6 L510.9,598.8 L512.4,604.0 L514.0,607.2 L515.3,613.4 L516.8,623.9 L518.2,636.4 L519.9,642.7 L521.6,640.6 L523.0,636.4 L523.9,641.6 L525.4,645.8 L526.9,643.7 L528.6,631.1 L530.2,618.6 L531.7,614.4 L533.2,613.3 L534.8,615.4 L536.5,616.5 L538.0,618.6 L539.4,622.8 L541.1,626.9 L542.8,629.0 L544.2,624.9 L545.7,618.6 L547.4,615.4 L549.1,614.0 L550.5,616.5 L552.0,620.7 L553.7,622.8 L555.3,626.9 L557.0,629.0 L558.9,630.1 L561.0,631.1 L563.1,632.2 L564.5,631.1 L566.2,626.9 L567.9,620.7 L569.3,612.3 L570.8,605.0 L572.5,601.8 L573.9,601.4 L575.4,605.0 L577.1,610.2 L578.8,612.3 L580.4,615.4 L582.1,616.5 L583.6,617.5 L585.0,622.8 L586.7,626.9 L588.2,639.5 L589.6,643.7 L591.3,641.6 L593.0,643.7 L594.5,644.7 L595.9,641.6 L597.2,626.9 L598.4,619.6 L599.7,622.8 L600.9,631.1 L602.2,626.9 L603.4,623.8 L604.7,629.0 L606.4,639.5 L607.6,637.4 L609.1,629.0 L610.6,621.7 L611.8,620.3 L613.1,624.9 L614.7,629.0 L616.4,631.1 L618.1,637.4 L619.3,640.5 L620.6,633.2 L622.3,620.7 L623.7,612.3 L625.2,610.2 L626.5,614.4 L627.7,618.6 L629.0,612.3 L630.2,606.0 L631.5,605.0 L632.7,607.1 L634.4,607.1 L636.1,601.8 L637.8,598.7 L639.4,596.6 L641.1,601.8 L642.6,609.2 L644.0,606.0 L645.3,602.9" fill="none" stroke="#1040ff" stroke-width="2.7" stroke-linejoin="round" stroke-linecap="round" clip-path="url(#cp2)"/>
<path d="M132.3,526.8 L133.9,594.1 L135.4,646.4 L136.9,663.2 L138.6,673.6 L140.6,675.7 L142.7,671.5 L144.8,661.1 L146.9,646.4 L149.0,631.8 L150.7,626.6 L152.2,642.3 L153.6,663.2 L155.3,681.4 L157.0,689.7 L158.4,690.8 L160.5,695.0 L162.0,696.4 L163.7,691.8 L165.7,686.6 L167.4,682.4 L168.9,685.6 L170.4,688.7 L172.0,685.1 L173.7,683.5 L175.2,687.7 L176.6,695.0 L178.3,700.2 L180.0,695.0 L181.4,692.9 L182.9,696.0 L184.6,689.7 L186.3,696.0 L187.7,704.4 L189.4,697.1 L191.3,691.8 L192.9,683.5 L194.6,674.1 L196.1,670.9 L198.2,667.8 L199.2,659.4 L200.7,653.1 L202.4,652.1 L203.8,655.2 L205.1,668.8 L206.5,685.6 L207.6,692.9 L209.1,677.2 L210.3,667.8 L211.4,666.3 L212.4,677.2 L213.9,698.1 L215.1,710.7 L216.4,700.2 L218.1,677.2 L219.7,667.8 L220.8,677.2 L222.2,693.9 L223.9,705.4 L226.0,710.7 L228.1,714.9 L229.6,710.7 L231.2,702.3 L232.7,693.9 L234.4,688.7 L235.8,687.7 L237.3,683.5 L239.0,673.0 L240.6,660.5 L242.1,652.1 L243.2,660.5 L244.4,668.8 L245.7,662.6 L246.9,658.4 L248.4,664.6 L249.8,673.0 L251.1,683.5 L252.6,693.9 L254.0,698.1 L255.7,693.9 L257.4,687.7 L258.8,673.0 L260.3,658.4 L262.0,650.0 L263.9,659.0 L265.4,667.4 L266.9,673.6 L268.6,677.8 L270.2,669.5 L271.7,663.2 L273.2,661.1 L274.8,671.5 L276.3,673.6 L277.5,667.4 L279.4,656.9 L281.1,649.6 L282.8,652.7 L284.2,652.7 L285.7,646.4 L287.0,644.4 L288.4,663.2 L289.9,677.8 L291.6,684.1 L293.7,685.1 L295.3,684.1 L296.8,686.2 L298.3,677.8 L299.5,665.3 L300.8,660.0 L302.4,671.5 L304.1,675.7 L305.8,673.6 L307.3,671.5 L308.7,675.7 L310.4,678.9 L312.1,677.8 L313.5,673.6 L315.0,667.4 L316.7,656.9 L318.1,652.7 L319.8,646.4 L321.3,643.3 L322.5,650.6 L324.0,659.0 L325.5,661.1 L327.1,665.3 L328.8,663.2 L330.3,659.0 L331.7,646.4 L333.0,625.5 L334.2,606.7 L335.5,601.5 L336.8,613.0 L338.0,625.5 L339.3,633.9 L340.7,629.7 L341.8,633.9 L343.0,646.4 L344.3,644.4 L345.5,646.4 L347.0,659.0 L348.5,671.5 L350.1,677.8 L352.2,676.8 L353.9,675.7 L355.2,687.7 L356.4,712.8 L357.5,732.6 L358.5,719.0 L359.6,691.8 L360.6,670.9 L361.4,646.4 L362.7,637.0 L363.9,642.3 L365.2,650.6 L366.9,648.5 L368.1,652.7 L369.4,646.4 L370.6,652.7 L372.1,661.1 L373.2,646.4 L374.4,642.3 L375.7,663.2 L376.9,679.9 L378.4,686.2 L379.8,684.1 L381.1,690.4 L382.6,693.5 L384.0,684.1 L385.3,687.2 L386.8,696.7 L388.2,686.2 L389.5,677.8 L390.9,682.0 L392.4,688.3 L393.9,669.5 L395.4,663.2 L396.9,673.7 L398.6,682.1 L400.2,686.2 L401.7,692.5 L403.2,682.1 L404.8,665.3 L406.5,655.9 L408.0,652.8 L409.4,654.9 L411.1,661.1 L413.2,664.3 L415.3,666.4 L417.0,669.5 L418.4,677.9 L419.9,686.2 L421.6,690.4 L423.2,682.1 L424.7,659.0 L426.2,647.5 L427.4,644.8 L428.9,649.6 L430.4,651.7 L432.0,647.5 L433.7,646.1 L435.4,652.8 L437.0,649.6 L438.7,646.5 L440.4,644.8 L442.1,649.6 L443.7,654.9 L445.4,656.9 L447.1,663.2 L448.8,667.4 L450.4,666.4 L451.9,669.5 L453.4,671.2 L455.0,666.4 L456.7,663.2 L458.2,669.5 L459.6,670.5 L461.3,664.3 L463.0,660.1 L464.5,665.3 L465.9,673.7 L467.6,682.1 L469.3,687.3 L470.7,677.9 L472.2,669.5 L473.9,661.1 L475.5,658.0 L477.2,660.1 L478.9,665.3 L480.1,673.7 L481.4,682.1 L482.7,686.2 L483.9,673.7 L485.2,648.6 L486.4,631.8 L488.1,623.5 L489.3,621.4 L490.6,627.7 L492.3,640.2 L493.7,649.6 L495.2,651.7 L496.9,644.4 L498.6,636.0 L500.0,633.9 L501.5,642.3 L502.7,659.0 L503.6,662.2 L504.8,648.6 L506.1,631.8 L506.9,625.6 L508.2,636.0 L509.4,646.5 L510.7,650.7 L511.9,644.4 L513.6,642.3 L515.3,646.5 L516.8,652.8 L518.2,656.9 L519.9,652.8 L521.6,646.5 L523.0,644.4 L523.9,674.0 L525.4,668.8 L526.9,667.7 L528.6,675.1 L530.2,683.4 L531.7,677.2 L533.2,664.6 L534.4,652.1 L535.2,650.0 L536.5,664.6 L538.0,679.2 L539.4,685.5 L541.1,679.2 L542.8,675.1 L544.2,670.9 L545.7,666.7 L547.4,664.6 L549.1,658.3 L550.5,647.9 L552.0,633.2 L553.2,622.8 L554.5,620.7 L555.7,629.0 L557.2,639.5 L558.5,641.6 L559.9,631.1 L561.2,629.0 L562.4,637.4 L564.1,645.8 L565.8,647.9 L567.3,641.6 L568.7,631.1 L570.0,624.9 L571.4,623.8 L572.5,629.0 L574.2,637.4 L575.6,631.1 L577.1,618.6 L578.3,614.4 L579.6,622.8 L580.9,635.3 L582.1,645.8 L583.4,647.9 L584.6,635.3 L586.1,622.8 L587.5,614.4 L588.8,613.3 L590.1,622.8 L591.3,633.2 L593.0,641.6 L594.5,647.9 L595.9,654.1 L597.6,658.3 L599.1,652.1 L600.7,647.9 L602.2,643.7 L603.9,639.5 L605.5,633.2 L607.0,626.9 L608.5,622.8 L609.7,626.9 L611.2,637.4 L612.7,645.8 L614.3,654.1 L616.0,662.5 L617.5,664.6 L618.9,656.2 L620.6,643.7 L622.3,633.2 L623.7,626.9 L625.2,622.8 L626.9,621.7 L628.1,624.9 L629.6,631.1 L631.1,635.3 L632.3,626.9 L633.6,620.7 L634.8,618.6 L636.3,622.8 L637.8,631.1 L639.0,635.3 L640.3,626.9 L641.5,616.5 L642.8,612.3 L644.0,610.2 L645.3,610.2" fill="none" stroke="#6cee28" stroke-width="2.7" stroke-linejoin="round" stroke-linecap="round" clip-path="url(#cp2)"/>
<path d="M132.3,526.8 L132.9,625.5 L133.9,708.6 L135.4,710.7 L136.9,704.4 L138.6,699.2 L140.2,704.4 L142.3,712.8 L144.4,716.9 L146.5,725.3 L148.0,719.0 L149.0,718.0 L150.7,733.7 L152.2,740.0 L153.6,733.7 L155.3,730.5 L157.4,732.6 L159.5,734.7 L161.1,725.3 L162.6,719.0 L164.1,727.4 L165.7,734.7 L167.4,737.9 L168.9,744.1 L170.4,751.5 L172.0,755.6 L173.7,750.4 L175.2,740.0 L176.6,719.0 L177.9,704.4 L178.9,701.3 L180.0,710.7 L181.4,727.4 L182.9,730.5 L184.6,729.5 L186.3,733.7 L187.7,735.8 L189.4,736.8 L190.9,744.1 L192.3,748.3 L193.4,737.9 L194.6,729.5 L196.1,733.7 L197.5,737.9 L199.2,742.1 L200.9,754.6 L202.4,775.5 L203.8,790.2 L205.1,779.7 L206.5,775.5 L208.0,773.4 L209.7,770.3 L211.4,768.2 L212.8,765.1 L214.3,760.9 L216.0,757.7 L217.4,763.0 L219.1,769.2 L221.2,775.5 L222.7,763.0 L224.3,748.3 L226.0,735.8 L227.5,731.6 L228.5,740.0 L229.8,748.3 L231.0,742.1 L232.1,740.0 L233.1,754.6 L234.4,769.2 L235.8,773.4 L237.3,770.3 L239.0,773.4 L240.4,775.5 L242.1,767.2 L243.6,761.9 L245.2,760.9 L246.9,764.0 L248.4,767.2 L249.8,754.6 L251.1,744.1 L252.4,741.0 L253.6,746.2 L254.9,749.4 L256.1,740.0 L257.4,738.9 L258.8,750.4 L260.3,742.1 L261.6,721.1 L263.0,700.2 L265.0,699.2 L266.5,706.5 L267.9,727.4 L269.4,746.2 L271.1,756.7 L272.7,758.8 L274.4,754.6 L275.9,744.1 L277.5,731.6 L279.0,726.4 L280.7,737.9 L282.2,748.3 L283.6,752.5 L285.3,744.1 L287.0,733.7 L288.4,729.5 L289.9,725.3 L291.6,719.0 L293.2,711.7 L294.7,708.6 L296.2,711.7 L297.8,715.9 L299.3,720.1 L300.4,708.6 L301.4,687.7 L302.4,662.6 L303.7,633.9 L305.2,627.6 L306.2,633.9 L307.5,636.0 L308.7,627.6 L310.0,621.3 L311.4,619.2 L312.9,629.7 L314.6,644.4 L316.3,654.8 L317.7,655.9 L318.8,646.4 L320.0,636.0 L321.3,631.8 L322.9,630.8 L324.6,631.8 L326.1,642.3 L327.5,654.8 L328.8,660.0 L330.3,654.8 L331.7,648.5 L333.4,640.2 L335.1,629.7 L336.5,625.5 L337.6,623.4 L339.3,621.3 L340.7,619.2 L342.2,623.4 L343.9,629.7 L345.3,632.8 L346.4,625.5 L347.6,617.2 L349.1,614.0 L350.6,617.2 L352.2,623.4 L353.9,625.5 L355.6,621.3 L357.3,615.1 L358.5,610.9 L360.0,617.2 L361.6,623.4 L363.1,619.2 L364.4,618.2 L365.6,625.5 L366.9,627.6 L368.1,617.2 L369.4,604.6 L370.6,600.8 L372.1,608.8 L373.6,621.3 L375.2,633.9 L376.9,644.4 L378.4,648.5 L379.8,642.3 L381.1,633.9 L382.8,625.5 L384.5,621.3 L386.1,620.3 L387.8,625.5 L389.5,633.9 L391.1,637.0 L393.0,631.8 L393.9,630.2 L395.4,640.6 L396.9,657.4 L398.1,667.8 L399.6,657.4 L401.1,644.8 L402.7,636.4 L404.0,634.4 L405.2,640.6 L406.9,651.1 L408.6,649.0 L410.1,655.3 L411.5,667.8 L413.2,682.1 L414.9,694.6 L415.7,696.7 L417.0,690.4 L418.4,677.9 L419.5,672.0 L421.1,663.6 L422.8,659.5 L424.7,659.5 L426.4,657.4 L427.8,659.5 L429.5,663.6 L431.0,667.8 L432.4,668.9 L433.7,663.6 L435.2,655.3 L436.6,649.0 L437.9,647.9 L439.3,651.1 L440.8,655.3 L442.5,656.3 L443.7,651.1 L445.2,649.0 L446.7,657.4 L448.1,667.8 L449.4,669.9 L450.9,663.6 L452.3,659.5 L453.8,663.6 L455.5,668.9 L457.1,665.7 L458.8,661.5 L460.3,655.3 L461.7,653.2 L463.4,657.4 L465.1,661.5 L466.5,657.4 L468.0,640.6 L469.7,626.0 L471.4,617.6 L472.8,615.1 L474.3,619.7 L476.0,628.1 L477.6,636.4 L479.1,640.6 L480.6,644.8 L482.2,636.4 L483.9,626.0 L485.4,615.5 L486.8,613.4 L488.5,615.5 L490.2,619.7 L491.6,628.1 L493.1,636.4 L494.8,642.7 L496.5,634.4 L497.9,623.9 L499.4,615.5 L500.6,613.4 L502.1,623.9 L503.2,636.4 L504.2,640.6 L505.2,619.7 L506.3,610.3 L507.8,613.4 L509.0,617.6 L510.5,611.3 L511.5,608.8 L512.8,619.7 L514.0,640.6 L515.3,657.4 L516.8,669.9 L518.2,665.7 L519.9,644.8 L521.6,623.9 L523.0,615.5 L524.4,622.8 L526.0,612.3 L527.5,606.0 L528.6,599.7 L529.6,598.7 L531.1,606.0 L532.3,618.6 L533.8,633.2 L535.2,643.7 L536.9,644.7 L538.4,647.9 L539.4,664.6 L541.1,677.2 L542.8,681.3 L544.5,685.5 L546.3,691.8 L547.8,697.0 L549.1,698.1 L550.5,693.9 L552.0,690.8 L553.7,691.8 L555.7,690.8 L557.8,689.7 L559.9,688.7 L561.6,687.6 L563.1,681.3 L564.5,674.0 L566.2,668.8 L567.9,660.4 L569.6,655.2 L571.0,653.1 L572.5,655.2 L574.2,658.3 L576.3,660.4 L577.9,659.4 L579.8,658.3 L581.3,652.1 L582.5,645.8 L584.0,643.7 L585.5,633.2 L587.1,631.1 L588.8,635.3 L590.5,639.5 L592.2,638.5 L593.8,641.6 L595.1,647.9 L596.1,650.0 L597.6,643.7 L599.1,634.3 L600.5,635.3 L602.2,638.5 L603.9,640.5 L605.5,641.6 L607.2,640.5 L608.9,642.6 L610.6,647.9 L612.2,660.4 L613.9,677.2 L615.6,685.5 L617.0,687.6 L618.5,686.6 L620.2,689.7 L621.6,688.7 L623.1,689.7 L624.8,696.0 L626.5,702.3 L628.1,706.4 L629.4,708.5 L630.6,704.4 L632.3,693.9 L633.6,683.4 L634.8,677.2 L636.1,674.0 L637.3,676.1 L639.0,683.4 L640.3,677.2 L641.5,666.7 L642.8,662.5 L644.0,660.4" fill="none" stroke="#ee4a3a" stroke-width="2.7" stroke-linejoin="round" stroke-linecap="round" clip-path="url(#cp2)"/>
<path d="M132.3,526.8 L134.4,583.7 L136.5,646.4 L139.0,677.8 L141.1,690.4 L142.7,677.8 L144.8,646.4 L146.9,608.8 L149.0,590.0 L151.1,586.8 L153.2,585.8 L155.3,583.7 L157.4,581.6 L159.5,579.1 L161.1,577.8 L162.6,580.5 L164.7,581.6 L166.8,585.8 L168.5,586.8 L169.9,583.7 L171.0,582.6 L172.4,587.9 L174.1,593.1 L175.6,583.7 L177.3,579.5 L179.3,578.5 L180.8,580.5 L182.5,590.0 L184.2,597.3 L185.6,595.2 L187.1,598.3 L188.8,603.6 L190.2,592.1 L191.9,584.7 L192.9,590.0 L194.6,598.3 L196.1,600.4 L198.2,603.6 L199.6,601.5 L201.3,604.6 L203.0,613.0 L204.7,616.1 L206.1,608.8 L207.6,596.2 L209.1,583.7 L210.7,577.8 L211.8,577.0 L213.0,581.6 L214.3,590.0 L216.0,592.1 L217.4,600.4 L219.1,605.6 L220.6,606.7 L222.2,608.8 L224.3,607.7 L226.4,609.8 L228.1,600.4 L229.6,592.1 L231.0,590.0 L232.7,598.3 L234.4,608.8 L235.8,617.2 L237.5,620.3 L239.0,619.2 L240.6,625.5 L242.1,623.4 L243.6,619.2 L245.2,617.2 L247.3,619.2 L249.4,621.3 L251.5,622.4 L253.2,627.6 L254.7,631.8 L256.1,633.9 L257.8,642.3 L259.1,644.4 L260.3,636.0 L261.6,627.6 L263.0,623.4 L264.8,604.6 L266.5,596.2 L267.5,595.2 L269.0,604.6 L270.6,621.3 L272.3,636.0 L273.6,642.3 L274.8,629.7 L275.9,619.2 L276.7,618.2 L277.5,629.7 L278.6,656.9 L279.4,691.8 L280.7,744.1 L281.5,759.8 L282.8,754.6 L284.2,752.5 L285.7,748.3 L287.4,727.4 L289.1,722.2 L290.5,729.5 L292.0,742.1 L293.7,758.8 L295.3,773.4 L297.0,786.0 L298.9,794.8 L300.4,781.8 L302.0,769.2 L303.7,764.0 L305.8,757.7 L307.3,760.9 L308.7,766.1 L310.4,771.3 L312.1,760.9 L313.5,755.6 L315.2,753.6 L316.3,737.9 L317.3,723.2 L318.1,720.1 L319.2,733.7 L320.4,752.5 L321.9,763.0 L323.4,752.5 L324.6,744.1 L326.1,747.3 L327.1,745.2 L328.2,733.7 L329.2,716.9 L330.1,711.7 L330.9,725.3 L331.9,746.2 L333.0,754.6 L334.0,750.4 L335.1,747.3 L336.1,733.7 L337.2,702.3 L338.0,670.9 L338.6,633.9 L339.7,608.8 L340.7,590.0 L341.4,585.8 L342.4,600.4 L343.4,625.5 L344.7,654.8 L346.0,668.4 L346.8,646.4 L347.6,604.6 L348.7,579.5 L349.7,572.2 L351.0,571.1 L352.2,577.4 L353.9,587.9 L355.6,598.3 L357.3,604.6 L358.5,594.1 L360.0,581.6 L361.4,576.4 L362.7,581.6 L364.2,594.1 L365.6,604.6 L366.9,596.2 L368.3,590.0 L370.0,591.0 L371.5,590.0 L373.2,588.9 L374.8,590.0 L376.3,598.3 L378.0,603.6 L379.4,594.1 L381.1,583.7 L382.6,580.5 L384.0,580.1 L385.3,587.9 L386.8,602.5 L388.2,609.8 L389.5,602.5 L390.9,594.1 L392.4,587.9 L393.9,586.2 L395.4,577.9 L396.9,569.5 L398.6,566.4 L400.6,567.4 L402.7,565.3 L404.4,567.4 L406.5,570.5 L408.0,572.6 L409.4,561.1 L410.7,538.1 L411.7,521.4 L412.6,518.9 L413.4,525.6 L414.7,546.5 L415.9,561.1 L417.4,565.3 L419.1,569.5 L420.5,573.7 L421.6,584.1 L422.6,600.9 L423.7,613.4 L424.9,603.0 L426.2,594.6 L427.4,598.8 L428.5,605.1 L429.5,598.8 L431.0,592.5 L432.4,588.3 L434.1,582.1 L435.8,580.0 L437.3,573.7 L438.7,569.5 L440.4,565.3 L442.1,564.3 L444.2,565.3 L446.3,566.4 L447.9,568.5 L449.4,566.4 L450.9,561.1 L452.1,558.6 L452.9,569.5 L454.2,584.1 L455.5,590.4 L457.1,587.3 L458.8,590.4 L460.3,603.0 L461.3,619.3 L462.6,644.4 L463.8,667.4 L465.1,684.1 L466.5,694.6 L468.0,709.2 L469.3,717.6 L470.1,719.7 L471.4,707.2 L472.6,682.1 L473.9,665.3 L474.9,677.9 L476.0,707.2 L476.8,727.0 L477.6,707.2 L478.7,677.9 L480.1,661.1 L481.2,646.5 L482.2,632.3 L483.5,615.5 L484.7,607.2 L486.0,603.0 L487.5,594.6 L488.9,590.8 L490.2,594.6 L491.6,603.0 L493.1,609.2 L494.8,611.3 L496.5,607.2 L497.9,598.8 L499.4,596.7 L500.6,603.0 L502.1,619.7 L503.6,640.6 L504.8,655.3 L505.9,657.4 L507.3,649.0 L509.0,636.4 L510.5,628.1 L511.9,623.9 L513.2,622.8 L514.5,632.3 L515.7,653.2 L517.4,669.9 L518.8,678.3 L520.3,674.1 L521.6,665.7 L523.0,657.4 L523.9,608.1 L525.0,602.9 L526.0,610.2 L527.5,611.3 L529.0,612.3 L530.2,643.7 L531.5,657.3 L532.7,652.1 L534.4,643.7 L535.9,629.0 L536.9,612.3 L538.2,595.6 L539.4,587.2 L540.7,591.4 L542.2,599.7 L543.6,597.7 L545.3,593.5 L546.8,587.2 L548.0,578.8 L549.1,575.7 L550.1,576.3 L551.1,585.1 L552.6,601.8 L554.1,612.3 L555.3,614.4 L556.8,609.2 L557.8,608.1 L559.1,614.4 L560.4,622.8 L561.6,639.5 L563.1,664.6 L564.5,689.7 L565.8,708.5 L566.6,704.4 L567.7,696.0 L568.7,702.3 L570.0,719.0 L571.2,727.4 L572.5,733.6 L573.7,706.4 L575.0,677.2 L576.3,656.2 L577.7,643.7 L579.2,639.5 L580.4,637.4 L581.7,626.9 L582.9,616.1 L584.0,626.9 L585.0,654.1 L586.3,685.5 L587.5,714.8 L588.8,731.5 L590.1,748.3 L591.3,756.7 L592.6,744.1 L593.8,719.0 L595.1,685.5 L596.1,660.4 L597.0,656.2 L598.0,668.8 L599.3,683.4 L600.7,685.5 L602.2,680.3 L603.0,683.4 L603.9,702.3 L605.1,727.4 L606.4,744.1 L607.2,746.2 L608.5,737.8 L609.7,729.5 L610.8,727.4 L611.8,733.6 L613.3,744.1 L614.3,735.7 L615.6,714.8 L616.8,693.9 L618.1,677.2 L619.3,660.4 L620.6,643.7 L621.9,633.2 L623.1,626.9 L624.4,624.9 L625.8,626.9 L627.3,629.0 L628.6,632.2 L629.8,643.7 L631.1,664.6 L632.3,681.3 L633.2,687.6 L634.2,677.2 L635.2,660.4 L636.5,643.7 L637.8,637.4" fill="none" stroke="#0a0a0a" stroke-width="2.7" stroke-linejoin="round" stroke-linecap="round" clip-path="url(#cp2)"/>
</g>
<g stroke="#2c2c2c" stroke-width="1.4" fill="none">
<rect x="132" y="490" width="514.500" height="397.400"/>
<path d="M132,526.300h6M132,616.600h6M132,706.900h6M132,797.200h6"/>
<path d="M646.500,526.300h-6M646.500,616.600h-6M646.500,706.900h-6M646.500,797.200h-6"/>
<path d="M260.600,887.400v-5M389.200,887.400v-5M517.900,887.400v-5M260.600,490v5M389.200,490v5M517.900,490v5"/>
</g>
<g font-size="29.500" text-anchor="end">
<text x="122.500" y="536.500">0</text><text x="122.500" y="626.800">−50</text><text x="122.500" y="717.100">−100</text><text x="122.500" y="807.400">−150</text><text x="122.500" y="897.700">−200</text>
</g>
<g font-size="29.500" text-anchor="middle">
<text x="132.500" y="913.300">0</text><text x="261" y="913.300">50</text><text x="389.300" y="913.300">100</text><text x="518.100" y="913.300">150</text><text x="646.300" y="913.300">200</text>
</g>
<text x="407.700" y="949.200" font-size="29.700" text-anchor="middle">Time (ns)</text>
<text font-size="30.100" text-anchor="middle" transform="translate(49.500,687.800) rotate(-90)">Energy (kcal/mol)</text>
<text class="b" x="241.800" y="574" style="fill:#1878fa" textLength="64.5" lengthAdjust="spacingAndGlyphs">A1::E1</text>
<text class="b" x="462.400" y="568.800" style="fill:#111" textLength="64.5" lengthAdjust="spacingAndGlyphs">A4::E4</text>
<text class="b" x="361.700" y="726.600" style="fill:#62e87c" textLength="65" lengthAdjust="spacingAndGlyphs">A2::E2</text>
<text class="b" x="203.300" y="808.600" style="fill:#ee4a3a" textLength="65" lengthAdjust="spacingAndGlyphs">A3::E3</text>
</svg>
</body></html>
